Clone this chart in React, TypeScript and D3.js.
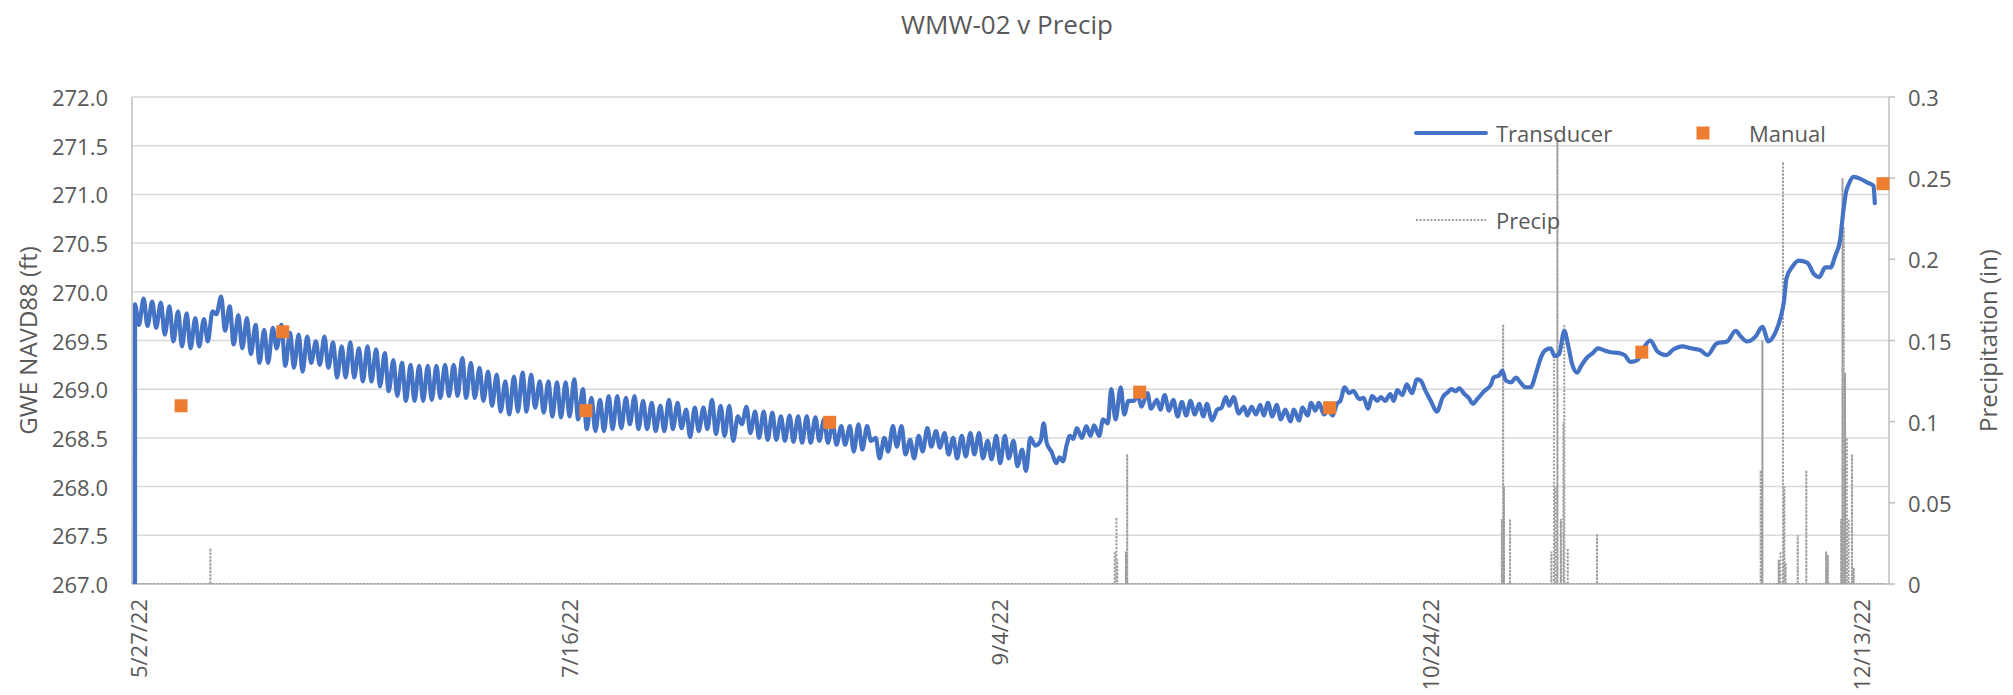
import React from "react";
import * as d3 from "d3";

// chart values
const startDate = "5/27/22";
const endDate = "12/17/22";
const xTickLabels = ["5/27/22", "7/16/22", "9/4/22", "10/24/22", "12/13/22"];
const leftTicks = [267, 267.5, 268, 268.5, 269, 269.5, 270, 270.5, 271, 271.5, 272];
const rightTicks = [0, 0.05, 0.1, 0.15, 0.2, 0.25, 0.3];

// first logged transducer value (sensor still out of the water)
const transducerStart: [number, number] = [0, 0];

// daily high / low of the transducer, days 0..103 from 5/27/22
const dailyHigh = [
  269.87, 269.93, 269.9, 269.89, 269.85, 269.8, 269.78, 269.73, 269.72, 269.8,
  269.95, 269.85, 269.76, 269.73, 269.66, 269.61, 269.63, 269.66, 269.58, 269.56,
  269.54, 269.49, 269.54, 269.48, 269.44, 269.48, 269.42, 269.44, 269.41, 269.37,
  269.3, 269.27, 269.25, 269.24, 269.24, 269.24, 269.25, 269.25, 269.32, 269.27,
  269.22, 269.18, 269.15, 269.08, 269.13, 269.17, 269.15, 269.08, 269.08, 269.07,
  269.07, 269.1, 269.0, 268.91, 268.89, 268.93, 268.93, 268.91, 268.93, 268.88,
  268.86, 268.83, 268.89, 268.86, 268.79, 268.81, 268.81, 268.89, 268.83, 268.83,
  268.72, 268.82, 268.77, 268.77, 268.76, 268.72, 268.73, 268.72, 268.72, 268.71,
  268.69, 268.65, 268.62, 268.62, 268.64, 268.62, 268.5, 268.5, 268.62, 268.62,
  268.48, 268.52, 268.6, 268.57, 268.55, 268.5, 268.52, 268.55, 268.55, 268.47,
  268.52, 268.52, 268.47, 268.38,
];
const dailyLow = [
  269.66, 269.65, 269.63, 269.56, 269.49, 269.44, 269.42, 269.44, 269.49, 269.77,
  269.6, 269.46, 269.42, 269.36, 269.27, 269.27, 269.42, 269.24, 269.22, 269.18,
  269.27, 269.25, 269.22, 269.12, 269.12, 269.12, 269.08, 269.08, 269.03, 268.98,
  268.93, 268.88, 268.88, 268.88, 268.89, 268.91, 268.93, 268.93, 268.91, 268.91,
  268.88, 268.83, 268.77, 268.74, 268.77, 268.77, 268.81, 268.76, 268.72, 268.71,
  268.72, 268.69, 268.59, 268.57, 268.57, 268.59, 268.6, 268.64, 268.59, 268.59,
  268.57, 268.57, 268.59, 268.6, 268.51, 268.57, 268.59, 268.54, 268.52, 268.47,
  268.64, 268.55, 268.5, 268.48, 268.48, 268.47, 268.46, 268.45, 268.45, 268.47,
  268.45, 268.43, 268.43, 268.36, 268.38, 268.47, 268.29, 268.36, 268.41, 268.33,
  268.29, 268.36, 268.41, 268.4, 268.33, 268.29, 268.31, 268.33, 268.29, 268.28,
  268.24, 268.29, 268.21, 268.16,
];

// later readings [day offset, ft]
const laterReadings: [number, number][] = [
  [104.3, 268.5], [104.9, 268.42], [105.5, 268.47], [105.85, 268.65], [106.2, 268.45],
  [106.8, 268.35], [107.3, 268.24], [107.7, 268.3], [108.1, 268.26], [108.5, 268.42],
  [108.9, 268.52], [109.3, 268.49],
  [109.7, 268.6], [110.3, 268.5], [110.8, 268.62], [111.3, 268.52], [111.7, 268.63],
  [112.3, 268.52], [112.75, 268.69], [113.3, 268.65], [113.7, 269.0], [114.2, 268.69],
  [114.8, 269.02], [115.2, 268.74], [115.7, 268.88], [116.3, 268.88], [116.8, 268.93],
  [117.2, 268.82], [117.9, 268.96], [118.3, 268.8], [119.0, 268.89], [119.4, 268.79],
  [119.9, 268.94], [120.4, 268.78], [120.9, 268.89], [121.4, 268.72], [121.9, 268.87],
  [122.4, 268.73], [122.9, 268.88], [123.4, 268.74], [123.9, 268.85], [124.4, 268.72],
  [124.8, 268.85], [125.4, 268.68], [126.0, 268.79], [126.5, 268.81], [127.0, 268.92],
  [127.4, 268.83], [127.9, 268.92], [128.5, 268.75], [129.1, 268.82], [129.5, 268.73],
  [130.0, 268.82], [130.5, 268.74], [131.0, 268.84], [131.4, 268.73], [131.9, 268.86],
  [132.4, 268.72], [132.9, 268.84], [133.4, 268.69], [133.9, 268.79], [134.5, 268.67],
  [134.9, 268.79], [135.5, 268.68], [135.9, 268.81], [136.5, 268.73], [136.9, 268.86],
  [137.4, 268.78], [137.8, 268.86], [138.4, 268.74], [138.9, 268.79], [139.4, 268.73],
  [139.9, 268.85], [140.3, 268.88], [140.8, 269.02], [141.3, 268.96], [141.8, 268.98],
  [142.5, 268.9], [143.0, 268.91], [143.5, 268.8], [144.0, 268.93], [144.6, 268.88],
  [145.0, 268.92], [145.5, 268.88], [146.1, 268.95], [146.5, 268.88], [146.9, 268.99],
  [147.5, 268.94], [148.0, 269.05], [148.6, 268.96], [149.2, 269.1], [149.6, 269.09],
  [150.2, 268.98], [150.8, 268.88], [151.5, 268.77], [152.2, 268.92], [152.8, 268.97],
  [153.2, 269.0], [153.7, 268.98], [154.1, 269.01], [154.7, 268.95], [155.2, 268.91],
  [155.7, 268.85], [156.2, 268.9], [157.0, 268.98], [157.8, 269.05], [158.1, 269.12],
  [158.7, 269.14], [159.1, 269.19], [159.5, 269.09], [160.1, 269.07], [160.7, 269.12],
  [161.2, 269.07], [161.8, 269.02], [162.4, 269.02], [163.0, 269.16], [163.6, 269.33],
  [164.1, 269.4], [164.7, 269.42], [165.2, 269.34], [165.7, 269.36], [166.3, 269.6],
  [166.7, 269.47], [167.2, 269.26], [167.8, 269.17], [168.2, 269.23], [169.0, 269.33],
  [169.6, 269.37], [170.2, 269.42], [170.9, 269.4], [171.7, 269.38], [172.7, 269.37],
  [173.3, 269.35], [174.0, 269.28], [174.8, 269.3], [175.5, 269.42], [176.3, 269.5],
  [177.1, 269.39], [178.1, 269.35], [179.0, 269.41], [180.0, 269.44], [181.0, 269.42],
  [182.1, 269.4], [182.9, 269.35], [184.0, 269.47], [185.2, 269.49], [186.2, 269.6],
  [186.8, 269.54], [187.5, 269.49], [188.5, 269.54], [189.3, 269.64], [190.0, 269.49],
  [190.8, 269.58], [191.4, 269.73], [191.8, 269.9], [192.1, 270.14], [192.8, 270.26],
  [193.5, 270.32], [194.5, 270.3], [195.3, 270.18], [195.9, 270.15], [196.6, 270.25],
  [197.2, 270.25], [197.8, 270.38], [198.3, 270.52], [198.7, 270.83], [199.0, 271.02],
  [199.3, 271.1], [199.9, 271.18], [200.7, 271.16], [201.5, 271.12], [202.2, 271.09],
  [202.35, 270.91],
];

// manual measurements [day offset, ft]
const manualReadings: [number, number][] = [
  [5.7, 268.83], [17.5, 269.59], [52.7, 268.78], [81.0, 268.66],
  [117.0, 268.97], [139.05, 268.81], [175.3, 269.38], [203.3, 271.11],
];

// precipitation readings [day offset, in]; zero elsewhere
const precipReadings: [number, number][] = [
  [9.1, 0.022],
  [114.1, 0.02], [114.3, 0.041], [114.4, 0.015], [115.4, 0.02], [115.55, 0.08],
  [159.05, 0.04], [159.2, 0.16], [159.3, 0.06], [160.0, 0.04],
  [164.8, 0.02], [165.1, 0.14], [165.25, 0.06], [165.5, 0.275], [165.9, 0.04],
  [166.2, 0.1], [166.3, 0.16], [166.7, 0.022], [170.1, 0.031],
  [189.1, 0.07], [189.3, 0.15],
  [191.2, 0.015], [191.4, 0.02], [191.7, 0.26], [191.85, 0.06], [192.0, 0.013],
  [193.4, 0.03], [194.4, 0.07], [196.7, 0.02], [196.9, 0.018],
  [198.45, 0.04], [198.6, 0.25], [198.75, 0.22], [198.9, 0.13], [199.1, 0.09],
  [199.3, 0.04], [199.7, 0.08], [199.9, 0.01],
];
const precipEnd = 203.5;

const W = 2013;
const H = 695;
const plot = { left: 132, right: 1889, top: 97, bottom: 584 };
const textColor = "#595959";
const font = "'Open Sans', 'DejaVu Sans', sans-serif";
const blue = "#4472C4";
const orange = "#ED7D31";
const precipGray = "#9E9E9E";

const parse = d3.timeParse("%m/%d/%y");
const t0 = parse(startDate) as Date;
const atDay = (d: number) => new Date(t0.getTime() + d * 86400000);

export default function App() {
  const x = d3
    .scaleTime()
    .domain([t0, parse(endDate) as Date])
    .range([plot.left, plot.right]);
  const yLeft = d3.scaleLinear().domain([267, 272]).range([plot.bottom, plot.top]);
  const yRight = d3.scaleLinear().domain([0, 0.3]).range([plot.bottom, plot.top]);

  const transducer: [number, number][] = [transducerStart];
  dailyHigh.forEach((hi, i) => {
    transducer.push([i + 0.35, hi]);
    transducer.push([i + 0.8, dailyLow[i]]);
  });
  laterReadings.forEach((r) => transducer.push(r));

  const levelLine = d3
    .line<[number, number]>()
    .x((d) => x(atDay(d[0])))
    .y((d) => yLeft(d[1]))
    .curve(d3.curveMonotoneX);

  const precipPts: [number, number][] = [[0, 0]];
  precipReadings.forEach(([d, v]) => {
    precipPts.push([d, 0], [d, v], [d, 0]);
  });
  precipPts.push([precipEnd, 0]);
  const precipLine = d3
    .line<[number, number]>()
    .x((d) => x(atDay(d[0])))
    .y((d) => yRight(d[1]));

  const fmtRight = d3.format("~g");
  const midY = (plot.top + plot.bottom) / 2;

  return (
    <svg
      width={W}
      height={H}
      style={{ position: "absolute", left: 0, top: 0, display: "block", background: "#fff" }}
      fontFamily={font}
    >
      <defs>
        <clipPath id="plotClip">
          <rect
            x={plot.left}
            y={plot.top - 10}
            width={plot.right - plot.left}
            height={plot.bottom - plot.top + 10}
          />
        </clipPath>
      </defs>

      <text x={1007} y={24} textAnchor="middle" dominantBaseline="central" fontSize={26} fill={textColor}>
        WMW-02 v Precip
      </text>

      {/* gridlines */}
      {leftTicks.map((t) => (
        <line
          key={"g" + t}
          x1={plot.left}
          x2={plot.right}
          y1={yLeft(t)}
          y2={yLeft(t)}
          stroke="#D9D9D9"
          strokeWidth={1.5}
        />
      ))}

      {/* axes */}
      <line x1={plot.left} x2={plot.left} y1={plot.top} y2={plot.bottom} stroke="#BFBFBF" strokeWidth={1.5} />
      <line x1={plot.right} x2={plot.right} y1={plot.top} y2={plot.bottom} stroke="#BFBFBF" strokeWidth={1.5} />
      <line x1={plot.left} x2={plot.right} y1={plot.bottom} y2={plot.bottom} stroke="#BFBFBF" strokeWidth={1.5} />
      {rightTicks.map((t) => (
        <line
          key={"rt" + t}
          x1={plot.right}
          x2={plot.right + 6}
          y1={yRight(t)}
          y2={yRight(t)}
          stroke="#BFBFBF"
          strokeWidth={1.5}
        />
      ))}

      {/* left tick labels */}
      {leftTicks.map((t) => (
        <text
          key={"l" + t}
          x={108}
          y={yLeft(t)}
          textAnchor="end"
          dominantBaseline="central"
          fontSize={22}
          fill={textColor}
        >
          {t.toFixed(1)}
        </text>
      ))}
      {/* right tick labels */}
      {rightTicks.map((t) => (
        <text
          key={"r" + t}
          x={1908}
          y={yRight(t)}
          dominantBaseline="central"
          fontSize={22}
          fill={textColor}
        >
          {fmtRight(t)}
        </text>
      ))}
      {/* x tick labels */}
      {xTickLabels.map((lab) => {
        const px = x(parse(lab) as Date) + 6;
        return (
          <text
            key={lab}
            transform={`translate(${px},599) rotate(-90)`}
            textAnchor="end"
            dominantBaseline="central"
            fontSize={22}
            fill={textColor}
          >
            {lab}
          </text>
        );
      })}

      {/* axis titles */}
      <text
        transform={`translate(27,${midY}) rotate(-90)`}
        textAnchor="middle"
        dominantBaseline="central"
        fontSize={24}
        fill={textColor}
      >
        GWE NAVD88 (ft)
      </text>
      <text
        transform={`translate(1987,${midY}) rotate(-90)`}
        textAnchor="middle"
        dominantBaseline="central"
        fontSize={24}
        fill={textColor}
      >
        Precipitation (in)
      </text>

      {/* series */}
      <g clipPath="url(#plotClip)">
        <path
          d={precipLine(precipPts) || ""}
          fill="none"
          stroke={precipGray}
          strokeWidth={2}
          strokeDasharray="2 1.6"
        />
        <path
          d={levelLine(transducer) || ""}
          fill="none"
          stroke={blue}
          strokeWidth={4.2}
          strokeLinejoin="round"
          strokeLinecap="round"
        />
      </g>
      {manualReadings.map(([d, v]) => (
        <rect
          key={"m" + d}
          x={x(atDay(d)) - 6.5}
          y={yLeft(v) - 6.5}
          width={13}
          height={13}
          fill={orange}
        />
      ))}

      {/* legend */}
      <line x1={1416} x2={1486} y1={133} y2={133} stroke={blue} strokeWidth={4} strokeLinecap="round" />
      <text x={1496} y={133} dominantBaseline="central" fontSize={22} fill={textColor}>
        Transducer
      </text>
      <rect x={1696.5} y={126.5} width={13} height={13} fill={orange} />
      <text x={1749} y={133} dominantBaseline="central" fontSize={22} fill={textColor}>
        Manual
      </text>
      <line
        x1={1416}
        x2={1486}
        y1={220}
        y2={220}
        stroke={precipGray}
        strokeWidth={2}
        strokeDasharray="2 1.6"
      />
      <text x={1496} y={220} dominantBaseline="central" fontSize={22} fill={textColor}>
        Precip
      </text>
    </svg>
  );
}
